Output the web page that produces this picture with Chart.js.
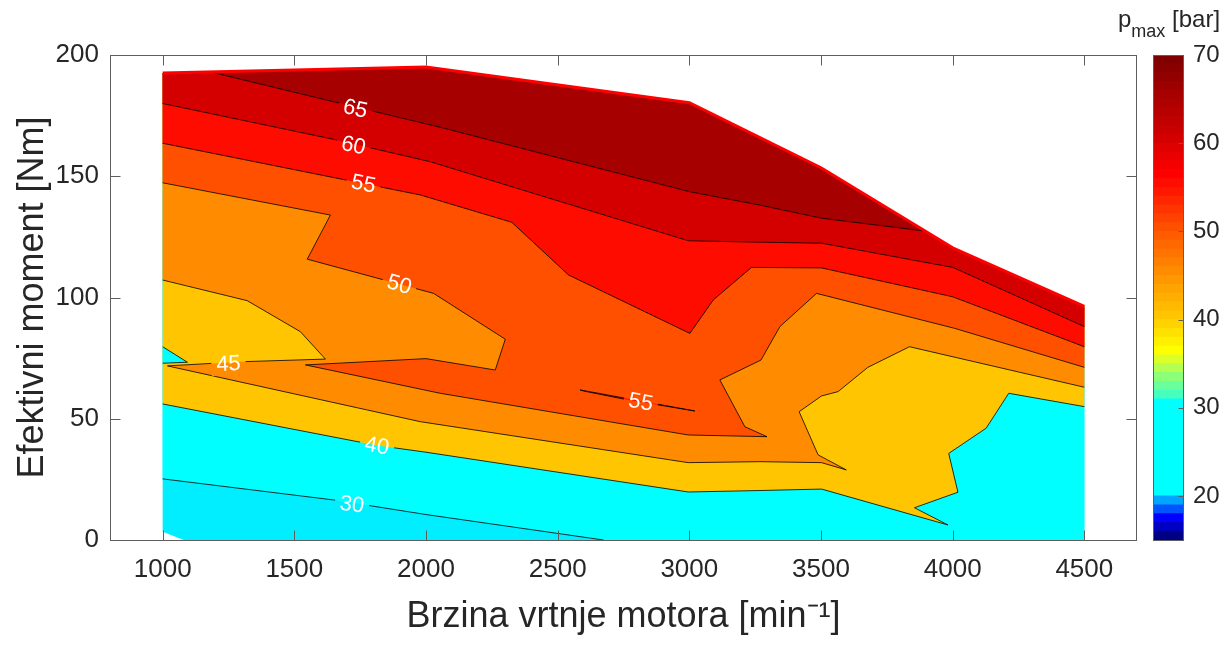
<!DOCTYPE html>
<html><head><meta charset="utf-8">
<script src="https://cdn.jsdelivr.net/npm/chart.js@4.4.1/dist/chart.umd.min.js"></script>
<style>
html,body{margin:0;padding:0;background:#fff;}
#wrap{position:relative;width:1231px;height:645px;overflow:hidden;}
#main{position:absolute;left:0;top:0;}
#cbar{position:absolute;left:1100px;top:0;}
</style></head><body>
<div id="wrap"><canvas id="main" width="1231" height="645"></canvas><canvas id="cbar" width="131" height="645"></canvas></div>
<script>
const FONT = "'Liberation Sans', Arial, Helvetica, sans-serif";

// ---- axis ticks ----
const xTicks = [1000,1500,2000,2500,3000,3500,4000,4500];
const yTicks = [0,50,100,150,200];
const cbTicks = [20,30,40,50,60,70];

// ---- domain boundary (max torque curve) and bottom ----
const topBoundary = [[1000,192.6],[2000,195],[3000,180.3],[3500,153.5],[4000,120.5],[4500,96.3]];
const bottomBoundary = [[1000,3.4],[1080,0],[4500,0]];

// ---- contour lines [speed, torque] ----
const contour30 = [[1000,25.2],[1650,16.5],[2000,10.5],[2674,0]];
const contour40 = [[1000,56.1],[1814,39],[2000,36.2],[2996,19.8],[3268,20.4],[3502,21],[3982,6.2],[3855,13.3],[4020,19.7],[3985,35.7],[4127,46.1],[4213,60.5],[4500,55]];
const contour45 = [[1000,107.2],[1321,98.7],[1523,85.9],[1618,74.6],[1296,73.5],[1018,71.8],[1978,48.8],[2996,31.9],[3268,32.3],[3502,31.9],[3596,28.9],[3489,35.1],[3417,52.9],[3502,59.4],[3565,61.2],[3678,71.2],[3836,79.7],[4500,63]];
const contour50 = [[1000,147.3],[1637,134],[1549,115.8],[2029,101.7],[2301,82.8],[2263,70.1],[2000,74.8],[1542,72.2],[2054,60.5],[2996,43.3],[3295,42.6],[3211,46.7],[3116,66],[3272,74.2],[3344,88],[3483,101.7],[4007,87.3],[4500,71.2]];
const contour55 = [[1000,163.6],[1978,142.3],[2326,131],[2541,109.3],[3002,85.2],[3091,99],[3236,112.4],[3502,112.2],[4000,100.3],[4500,79.7]];
const contour60 = [[1000,180],[1650,165.2],[2016,156],[2996,123.4],[3268,122.8],[3502,122.4],[4001,112.4],[4500,88]];
const contour65 = [[1182,193],[1650,180.7],[2054,170.2],[3002,143.6],[3268,138.1],[3502,132.7],[3887,127.5]];
const spike = [[1000,79.7],[1094,73.3],[1000,72.9]];
const island55 = [[2585,61.9],[3021,53.2],[2760,57.9],[2600,61.4],[2585,61.9]];

// ---- contour labels ----
const labelText  = ['65','60','55','50','45','55','40','30'];
const labelX     = [1732,1725,1763,1899,1250,2816,1814,1719];
const labelY     = [178,162.8,147,105.5,72.8,57,39,14.8];
const labelAngle = [13,12,11,16,-3,10,10,8];

// ---- colorbar ----
const cbEdges = [15,16,17,18,19,20,21,22,23,24,25,26,27,28,29,30,31,32,33,34,35,36,37,38,39,40,41,42,43,44,45,46,47,48,49,50,51,52,53,54,55,56,57,58,59,60,61,62,63,64,65,66,67,68,69,70];
const cbColors = ['rgb(0,0,135)','rgb(0,0,195)','rgb(0,0,255)','rgb(0,85,255)','rgb(0,165,255)',
 'rgb(0,255,255)','rgb(0,255,255)','rgb(0,255,255)','rgb(0,255,255)','rgb(0,255,255)','rgb(0,255,255)','rgb(0,255,255)','rgb(0,255,255)','rgb(0,255,255)','rgb(0,255,255)','rgb(0,255,255)',
 'rgb(70,255,190)','rgb(105,255,155)','rgb(140,255,120)','rgb(180,255,80)','rgb(220,255,40)',
 'rgb(255,255,0)','rgb(255,240,0)','rgb(255,225,0)','rgb(255,210,0)',
 'rgb(255,197,0)','rgb(255,185,0)','rgb(255,174,0)','rgb(255,163,0)','rgb(255,151,0)',
 'rgb(255,140,0)','rgb(255,128,0)','rgb(255,116,0)','rgb(255,104,0)','rgb(255,92,0)',
 'rgb(255,80,0)','rgb(255,66,0)','rgb(255,52,0)','rgb(255,38,0)','rgb(255,24,0)',
 'rgb(255,12,0)','rgb(255,0,0)','rgb(245,0,0)','rgb(234,0,0)','rgb(223,0,0)',
 'rgb(212,0,0)','rgb(202,0,0)','rgb(193,0,0)','rgb(184,0,0)','rgb(175,0,0)',
 'rgb(166,0,0)','rgb(156,0,0)','rgb(147,0,0)','rgb(137,0,0)','rgb(128,0,0)'];

// ---- region fill colours ----
const colBase = 'rgb(0,238,255)', col30 = 'rgb(0,255,255)', col40 = 'rgb(255,197,0)', col45 = 'rgb(255,140,0)',
      col50 = 'rgb(255,80,0)', col55 = 'rgb(255,12,0)', col60 = 'rgb(212,0,0)', col65 = 'rgb(166,0,0)';

const toPts = a => a.map(([x,y]) => ({x, y}));
const rev = a => a.slice().reverse();
const topRev = rev(topBoundary);
const c65a = contour65[0][0], c65b = contour65[contour65.length-1][0];

const regions = [
  [bottomBoundary.concat(topRev), colBase],
  [contour30.concat([[4500,0]], topRev), col30],
  [contour40.concat(topRev), col40],
  [spike, col30],
  [contour45.concat(topRev), col45],
  [contour50.concat(topRev), col50],
  [contour55.concat(topRev), col55],
  [island55, col55],
  [contour60.concat(topRev), col60],
  [contour65.concat(rev(topBoundary.filter(p => p[0] > c65a && p[0] < c65b))), col65]
];
const lines = [contour30, contour40, contour45, contour50, contour55, contour60, contour65, spike, island55];

const datasets = [];
regions.forEach(([p, c], i) => datasets.push({
  data: toPts(p), fill: 'shape', backgroundColor: c, borderColor: 'transparent', borderWidth: 0, order: 200 - i
}));
lines.forEach((p, j) => datasets.push({
  data: toPts(p), fill: false, borderColor: '#000', borderWidth: 0.8, isContour: true, order: 50 - j
}));
datasets.push({ data: toPts(topBoundary), fill: false, borderColor: 'rgb(255,0,0)', borderWidth: 3, order: 0 });

function labelGeom(chart) {
  const xs = chart.scales.x, ys = chart.scales.y, ctx = chart.ctx;
  ctx.save(); ctx.font = '22px ' + FONT;
  const r = labelText.map((t, i) => ({
    t, px: xs.getPixelForValue(labelX[i]), py: ys.getPixelForValue(labelY[i]),
    a: labelAngle[i] * Math.PI / 180, w: ctx.measureText(t).width
  }));
  ctx.restore();
  return r;
}

const contourLabels = {
  id: 'contourLabels',
  beforeDatasetDraw(chart, args) {
    const ds = chart.data.datasets[args.index];
    if (!ds.isContour) return;
    const ctx = chart.ctx;
    ctx.save();
    ctx.beginPath();
    ctx.rect(0, 0, chart.width, chart.height);
    for (const L of labelGeom(chart)) {
      const hw = L.w / 2 + 5, hh = 12, c = Math.cos(L.a), s = Math.sin(L.a);
      const q = [[-hw,-hh],[hw,-hh],[hw,hh],[-hw,hh]].map(([u,v]) => [L.px + u*c - v*s, L.py + u*s + v*c]);
      ctx.moveTo(q[0][0], q[0][1]);
      for (let k = 1; k < 4; k++) ctx.lineTo(q[k][0], q[k][1]);
      ctx.closePath();
    }
    ctx.clip('evenodd');
  },
  afterDatasetDraw(chart, args) {
    const ds = chart.data.datasets[args.index];
    if (!ds.isContour) return;
    chart.ctx.restore();
  },
  afterDatasetsDraw(chart) {
    const ctx = chart.ctx;
    ctx.save();
    ctx.font = '22px ' + FONT; ctx.fillStyle = '#fff';
    ctx.textAlign = 'center'; ctx.textBaseline = 'middle';
    for (const L of labelGeom(chart)) {
      ctx.save(); ctx.translate(L.px, L.py); ctx.rotate(L.a);
      ctx.fillText(L.t, 0, 1);
      ctx.restore();
    }
    ctx.restore();
  }
};

const frame = {
  id: 'frame',
  afterDraw(chart) {
    const {ctx, chartArea: {left, right, top, bottom}} = chart;
    const xs = chart.scales.x, ys = chart.scales.y;
    ctx.save();
    ctx.strokeStyle = '#5e5e5e'; ctx.lineWidth = 1;
    const L = Math.round(left) + 0.5, R = Math.round(right) - 0.5, T = Math.round(top) + 0.5, B = Math.round(bottom) + 0.5;
    ctx.strokeRect(L, T, R - L, B - T);
    ctx.beginPath();
    for (const v of xTicks) {
      const p = Math.round(xs.getPixelForValue(v)) + 0.5;
      ctx.moveTo(p, B); ctx.lineTo(p, B - 10);
      ctx.moveTo(p, T); ctx.lineTo(p, T + 10);
    }
    for (const v of yTicks) {
      const p = Math.round(ys.getPixelForValue(v)) + 0.5;
      ctx.moveTo(L, p); ctx.lineTo(L + 10, p);
      ctx.moveTo(R, p); ctx.lineTo(R - 10, p);
    }
    ctx.stroke();
    ctx.restore();
  }
};

const tickFont = {family: FONT, size: 26};
const titleFont = {family: FONT, size: 36};

new Chart(document.getElementById('main'), {
  type: 'line',
  data: { datasets },
  options: {
    responsive: false, animation: false, events: [],
    layout: { padding: {left: 0, right: 94, top: 55, bottom: 0} },
    elements: { point: {radius: 0, hitRadius: 0}, line: {tension: 0} },
    plugins: { legend: {display: false}, tooltip: {enabled: false} },
    scales: {
      x: {
        type: 'linear', min: 800, max: 4700,
        afterBuildTicks: s => { s.ticks = xTicks.map(v => ({value: v})); },
        afterFit: s => { s.height = 105; },
        grid: {display: false, drawTicks: false}, border: {display: false},
        ticks: {padding: 14, font: tickFont, color: '#262626', maxRotation: 0, autoSkip: false, callback: v => String(v)},
        title: {display: true, text: 'Brzina vrtnje motora [min⁻¹]', font: titleFont, color: '#262626', padding: {top: 0, bottom: 6}}
      },
      y: {
        type: 'linear', min: 0, max: 200,
        afterBuildTicks: s => { s.ticks = yTicks.map(v => ({value: v})); },
        afterFit: s => { s.width = 110; },
        grid: {display: false, drawTicks: false}, border: {display: false},
        ticks: {padding: 11, font: tickFont, color: '#262626', callback: v => String(v)},
        title: {display: true, text: 'Efektivni moment [Nm]', font: titleFont, color: '#262626', padding: {top: 11, bottom: 0}}
      }
    }
  },
  plugins: [contourLabels, frame]
});

const cbFrame = {
  id: 'cbFrame',
  afterDraw(chart) {
    const {ctx, chartArea: {left, right, top, bottom}} = chart;
    const ys = chart.scales.y;
    ctx.save();
    ctx.strokeStyle = '#5e5e5e'; ctx.lineWidth = 1;
    const L = Math.round(left) + 0.5, R = Math.round(right) - 0.5, T = Math.round(top) + 0.5, B = Math.round(bottom) + 0.5;
    ctx.strokeRect(L, T, R - L, B - T);
    ctx.beginPath();
    for (const v of cbTicks) {
      const p = Math.round(ys.getPixelForValue(v)) + 0.5;
      ctx.moveTo(R, p); ctx.lineTo(R - 5, p);
    }
    ctx.stroke();
    // title p_max [bar]
    ctx.fillStyle = '#262626'; ctx.textBaseline = 'alphabetic'; ctx.textAlign = 'left';
    ctx.font = '24px ' + FONT;
    let x = 18;
    ctx.fillText('p', x, 27); x += ctx.measureText('p').width;
    ctx.font = '18px ' + FONT;
    ctx.fillText('max', x, 37); x += ctx.measureText('max').width;
    ctx.font = '24px ' + FONT;
    x += ctx.measureText(' ').width;
    ctx.fillText('[bar]', x, 27);
    ctx.restore();
  }
};

new Chart(document.getElementById('cbar'), {
  type: 'bar',
  data: {
    labels: [''],
    datasets: cbColors.map((c, i) => ({
      data: [[cbEdges[i], cbEdges[i + 1]]], backgroundColor: c, borderWidth: 0,
      barPercentage: 1, categoryPercentage: 1, grouped: false
    }))
  },
  options: {
    responsive: false, animation: false, events: [],
    layout: { padding: {left: 53, right: 0, top: 55, bottom: 105} },
    plugins: { legend: {display: false}, tooltip: {enabled: false} },
    scales: {
      x: {display: false},
      y: {
        position: 'right', min: 15, max: 70,
        afterBuildTicks: s => { s.ticks = cbTicks.map(v => ({value: v})); },
        afterFit: s => { s.width = 47; },
        grid: {display: false, drawTicks: false}, border: {display: false},
        ticks: {padding: 9, font: {family: FONT, size: 24}, color: '#262626', callback: v => String(v)}
      }
    }
  },
  plugins: [cbFrame]
});
</script>
</body></html>
